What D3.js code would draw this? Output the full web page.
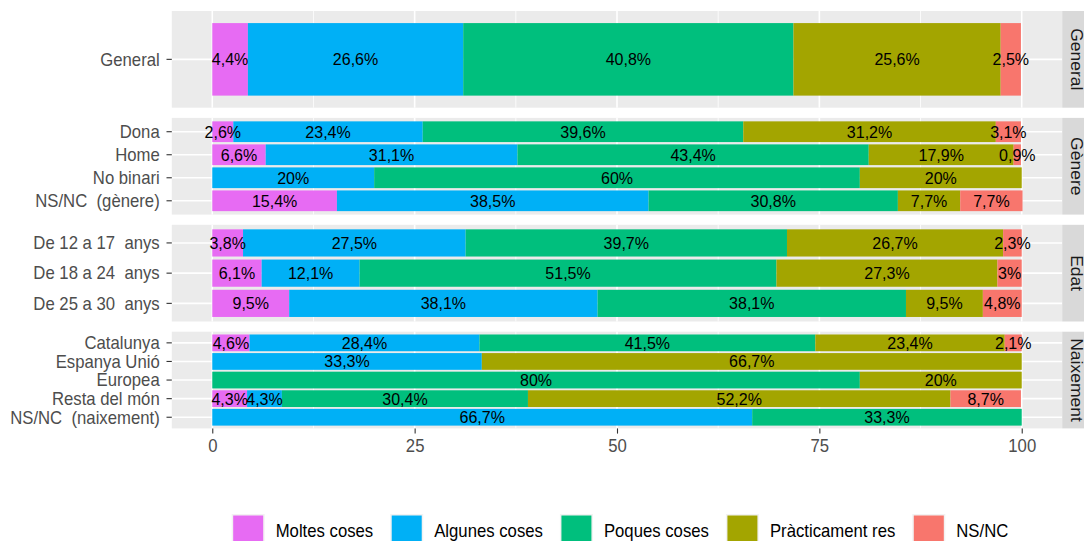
<!DOCTYPE html>
<html><head><meta charset="utf-8">
<script src="https://cdn.jsdelivr.net/npm/d3@7"></script>
<style>
body{margin:0;background:#fff}
svg{display:block}
text{font-family:"Liberation Sans",Arial,Helvetica,sans-serif;white-space:pre}
</style>
</head><body><svg id="c" width="1084" height="541"></svg>
<script>
// ---- data ----
const responses = ["Moltes coses","Algunes coses","Poques coses","Pràcticament res","NS/NC"];
const colors = ["#E76BF3","#00B0F6","#00BF7D","#A3A500","#F8766D"];
const facets = ["General","Gènere","Edat","Naixement"];
const catsGeneral = ["General"];
const catsGenere = ["Dona","Home","No binari","NS/NC  (gènere)"];
const catsEdat = ["De 12 a 17  anys","De 18 a 24  anys","De 25 a 30  anys"];
const catsNaixement = ["Catalunya","Espanya Unió","Europea","Resta del món","NS/NC  (naixement)"];
const valsGeneral = [[4.4,26.6,40.8,25.6,2.5]];
const valsGenere = [[2.6,23.4,39.6,31.2,3.1],[6.6,31.1,43.4,17.9,0.9],[0,20,60,20,0],[15.4,38.5,30.8,7.7,7.7]];
const valsEdat = [[3.8,27.5,39.7,26.7,2.3],[6.1,12.1,51.5,27.3,3],[9.5,38.1,38.1,9.5,4.8]];
const valsNaixement = [[4.6,28.4,41.5,23.4,2.1],[0,33.3,0,66.7,0],[0,0,80,20,0],[4.3,4.3,30.4,52.2,8.7],[0,66.7,33.3,0,0]];
const xTicks = [0,25,50,75,100];
const xMinor = [12.5,37.5,62.5,87.5];

const panelCats = [catsGeneral,catsGenere,catsEdat,catsNaixement];
const panelVals = [valsGeneral,valsGenere,valsEdat,valsNaixement];

// ---- layout ----
const svg = d3.select("#c");
const L = 171.8, R = 1062.2;
const top0 = 11, pStep = 106.9, pH = 96.7;
const x = d3.scaleLinear().domain([-5,105]).range([L,R]);
const FS = 17.5, SX = 0.955;     // axis / legend / strip text
const LFS = 16.6, LSX = 0.965;   // bar labels
const fmt = v => String(v).replace(".", ",") + "%";

panelCats.forEach((cats, pi) => {
  const t = top0 + pi*pStep, b = t + pH;
  const y = d3.scaleBand().domain(cats).range([t,b]).paddingInner(0.1).paddingOuter(0.15);
  const g = svg.append("g");
  g.append("rect").attr("x",L).attr("y",t).attr("width",R-L).attr("height",pH).attr("fill","#EBEBEB");
  g.selectAll(".mn").data(xMinor).join("line")
    .attr("x1",d=>x(d)).attr("x2",d=>x(d)).attr("y1",t).attr("y2",b)
    .attr("stroke","#fff").attr("stroke-width",0.8);
  g.selectAll(".mj").data(xTicks).join("line")
    .attr("x1",d=>x(d)).attr("x2",d=>x(d)).attr("y1",t).attr("y2",b)
    .attr("stroke","#fff").attr("stroke-width",1.6);
  g.selectAll(".hg").data(cats).join("line")
    .attr("x1",L).attr("x2",R).attr("y1",d=>y(d)+y.bandwidth()/2).attr("y2",d=>y(d)+y.bandwidth()/2)
    .attr("stroke","#fff").attr("stroke-width",1.6);

  const segs = [];
  panelVals[pi].forEach((row, ri) => {
    let cum = 0;
    row.forEach((v, si) => {
      segs.push({cat: cats[ri], s: si, x0: cum, x1: cum + v, v});
      cum += v;
    });
  });
  const vis = segs.filter(d => d.v > 0);
  g.selectAll(".bar").data(vis).join("rect")
    .attr("x",d=>x(d.x0)).attr("width",d=>x(d.x1)-x(d.x0))
    .attr("y",d=>y(d.cat)).attr("height",y.bandwidth())
    .attr("fill",d=>colors[d.s]);
  g.selectAll(".lab").data(vis).join("text")
    .attr("transform",d=>`translate(${x((d.x0+d.x1)/2)},${y(d.cat)+y.bandwidth()/2 + 0.36*LFS}) scale(${LSX},1)`)
    .attr("text-anchor","middle").attr("font-size",LFS).attr("fill","#000")
    .text(d=>fmt(d.v));

  const ax = g.append("g").attr("transform",`translate(${L},0)`)
    .call(d3.axisLeft(y).tickSize(5.3).tickPadding(6.8));
  ax.select(".domain").remove();
  ax.selectAll(".tick line").attr("stroke","#333333").attr("stroke-width",1.1);
  ax.selectAll(".tick text").attr("font-size",FS).attr("fill","#4D4D4D")
    .attr("font-family",null).attr("dy","0.36em")
    .attr("transform",`scale(${SX},1)`).attr("x",-12.1/SX);

  g.append("rect").attr("x",R).attr("y",t).attr("width",30).attr("height",pH).attr("fill","#D9D9D9");
  g.append("text")
    .attr("transform",`translate(1076.3,${t+pH/2}) scale(${SX},1) rotate(90)`)
    .attr("text-anchor","middle").attr("dominant-baseline","central")
    .attr("font-size",FS).attr("fill","#1A1A1A").text(facets[pi]);
});

const lastBottom = top0 + 3*pStep + pH;
const xa = svg.append("g").attr("transform",`translate(0,${lastBottom})`)
  .call(d3.axisBottom(x).tickValues(xTicks).tickSize(5.2).tickPadding(5.6));
xa.select(".domain").remove();
xa.selectAll(".tick line").attr("stroke","#333333").attr("stroke-width",1.1);
xa.selectAll(".tick text").attr("font-size",FS).attr("fill","#4D4D4D").attr("font-family",null)
  .attr("transform",`scale(${SX},1)`);

const KEY = 33, GAP = 11, SPACE = 17, keyTop = 514;
const lg = svg.append("g");
const items = responses.map((r,i) => {
  const tx = lg.append("text").attr("font-size",FS).attr("fill","#000").text(r);
  return {r, i, tx, w: tx.node().getComputedTextLength()*SX};
});
const total = d3.sum(items, d => KEY + GAP + d.w) + SPACE*(items.length-1);
let cx = 620 - total/2;
items.forEach(d => {
  lg.append("rect").attr("x",cx).attr("y",keyTop).attr("width",KEY).attr("height",KEY).attr("fill","#F2F2F2");
  lg.append("rect").attr("x",cx+1.5).attr("y",keyTop+1.5).attr("width",KEY-3).attr("height",KEY-3).attr("fill",colors[d.i]);
  d.tx.attr("transform",`translate(${cx+KEY+GAP},${keyTop+KEY/2+0.36*FS}) scale(${SX},1)`);
  cx += KEY + GAP + d.w + SPACE;
});
</script>
</body></html>
